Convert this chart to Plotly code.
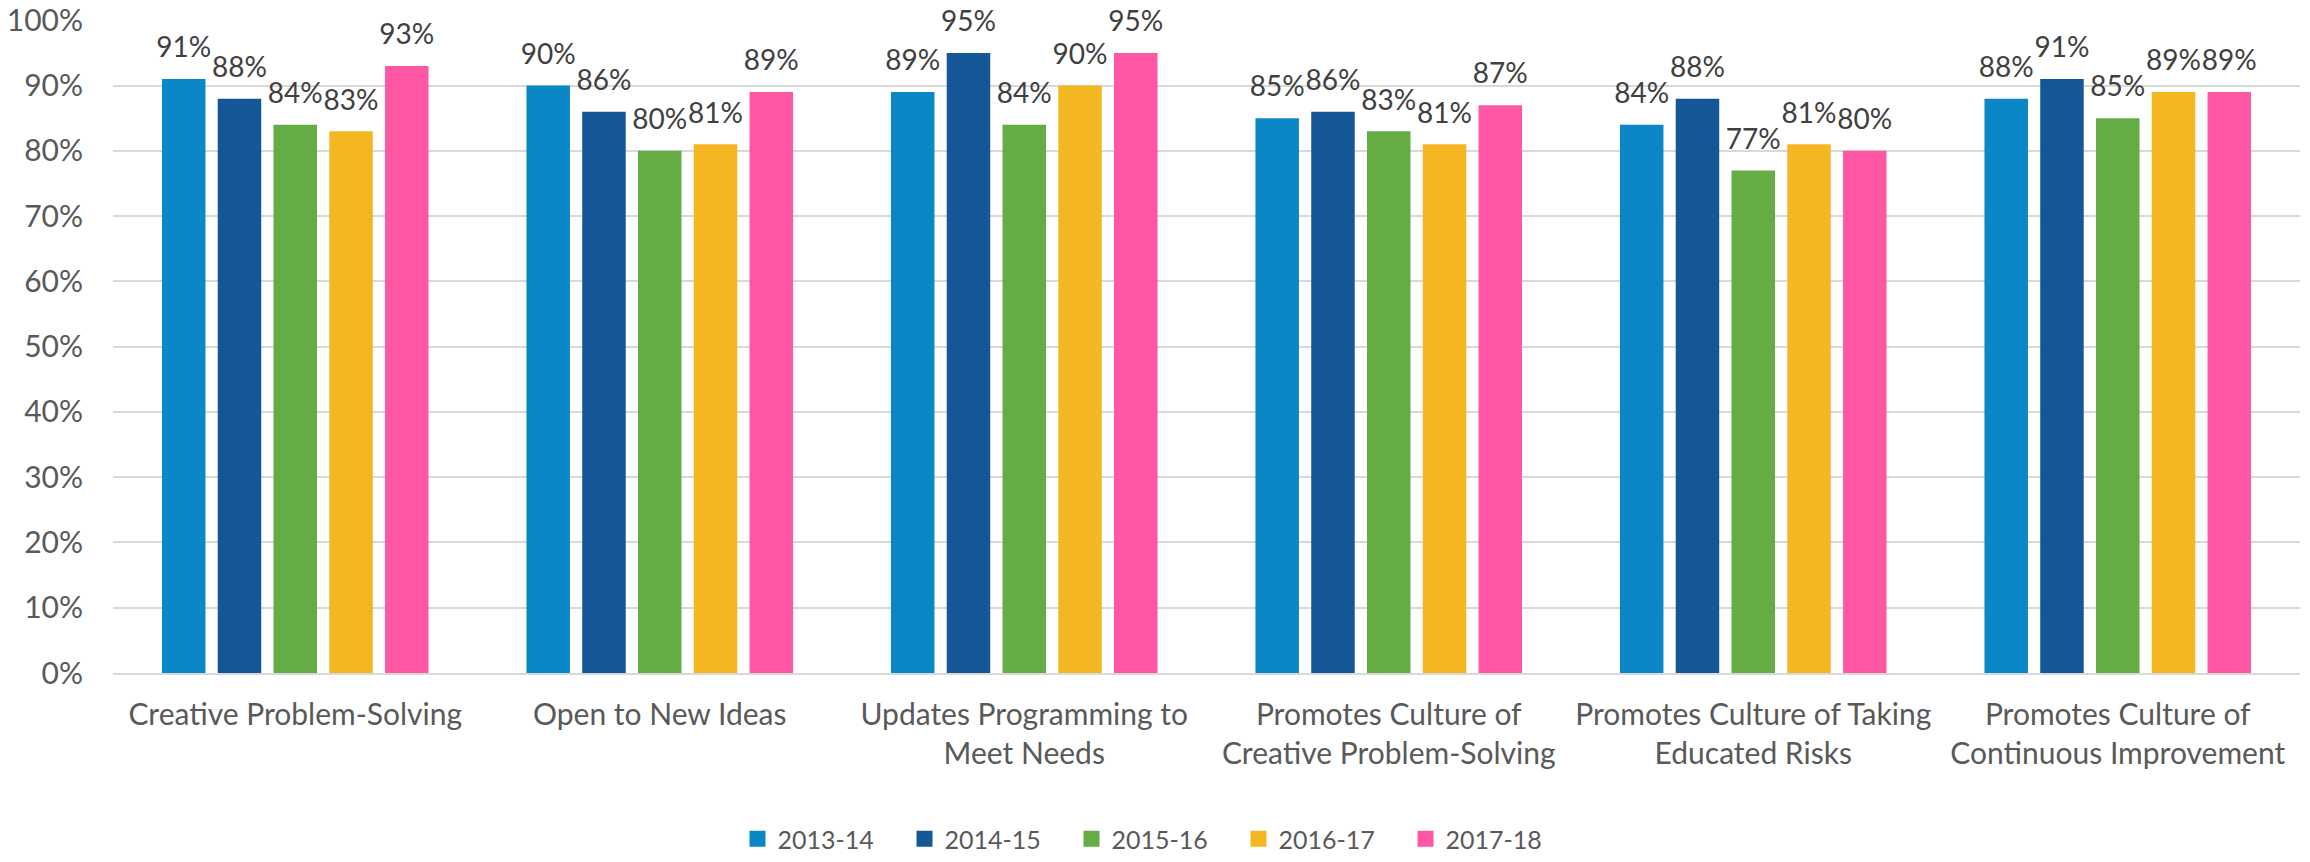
import plotly.graph_objects as go

categories = [
    "Creative Problem-Solving",
    "Open to New Ideas",
    "Updates Programming to<br>Meet Needs",
    "Promotes Culture of<br>Creative Problem-Solving",
    "Promotes Culture of Taking<br>Educated Risks",
    "Promotes Culture of<br>Continuous Improvement",
]
series_names = ["2013-14", "2014-15", "2015-16", "2016-17", "2017-18"]
values_2013_14 = [0.91, 0.90, 0.89, 0.85, 0.84, 0.88]
values_2014_15 = [0.88, 0.86, 0.95, 0.86, 0.88, 0.91]
values_2015_16 = [0.84, 0.80, 0.84, 0.83, 0.77, 0.85]
values_2016_17 = [0.83, 0.81, 0.90, 0.81, 0.81, 0.89]
values_2017_18 = [0.93, 0.89, 0.95, 0.87, 0.80, 0.89]
series_values = [values_2013_14, values_2014_15, values_2015_16, values_2016_17, values_2017_18]
colors = ["#0B87C8", "#135797", "#65AC45", "#F5B721", "#FF57A3"]
y_ticks = [0, 0.1, 0.2, 0.3, 0.4, 0.5, 0.6, 0.7, 0.8, 0.9, 1.0]
y_tick_labels = ["0%", "10%", "20%", "30%", "40%", "50%", "60%", "70%", "80%", "90%", "100%"]

FONT = "Lato"
TEXT = "#595959"
LABEL = "#404040"
BARGAP = 0.235

fig = go.Figure()

# bars
for name, vals, col in zip(series_names, series_values, colors):
    fig.add_trace(go.Bar(
        x=categories, y=vals, name=name, marker_color=col,
        marker_line_width=0, showlegend=False, hoverinfo="skip",
    ))

# data labels (grouped scatter, aligned with bars)
for name, vals in zip(series_names, series_values):
    fig.add_trace(go.Scatter(
        x=categories, y=vals, mode="markers+text",
        text=[f"{round(v*100)}%" for v in vals],
        textposition="top center",
        textfont=dict(family=FONT, size=28, color=LABEL),
        marker=dict(size=22, color="rgba(0,0,0,0)"),
        showlegend=False, hoverinfo="skip", cliponaxis=False,
    ))

# legend entries (separate hidden subplot so grouping is unaffected)
for name, col in zip(series_names, colors):
    fig.add_trace(go.Scatter(
        x=[None], y=[None], mode="markers", name=name,
        marker=dict(symbol="square", size=16, color=col),
        xaxis="x2", yaxis="y2", hoverinfo="skip",
    ))

fig.update_layout(
    width=2310, height=862,
    margin=dict(l=113, r=10, t=20, b=189),
    paper_bgcolor="white", plot_bgcolor="white",
    barmode="group", bargap=BARGAP, bargroupgap=0.22,
    scattermode="group", scattergap=BARGAP,
    font=dict(family=FONT, size=27, color=TEXT),
    hovermode=False,
    xaxis=dict(
        showgrid=False, showline=True, linecolor="#D9D9D9", linewidth=2,
        ticks="", tickfont=dict(family=FONT, size=30, color=TEXT),
        ticklabelstandoff=14, automargin=False,
    ),
    yaxis=dict(
        range=[0, 1.0005], tickmode="array", tickvals=y_ticks, ticktext=y_tick_labels,
        showgrid=True, gridcolor="#D9D9D9", gridwidth=2,
        zeroline=False, showline=False, ticks="",
        tickfont=dict(family=FONT, size=30, color=TEXT),
        ticklabelstandoff=29, automargin=False, ticklabeloverflow="allow",
    ),
    xaxis2=dict(visible=False, domain=[0, 0.01]),
    yaxis2=dict(visible=False, domain=[0, 0.01], anchor="x2"),
    legend=dict(
        orientation="h", xref="container", yref="container",
        x=0.5, xanchor="center", y=0.0, yanchor="bottom",
        font=dict(family=FONT, size=25, color=TEXT),
        itemclick=False, itemdoubleclick=False,
        entrywidth=122, entrywidthmode="pixels",
        bgcolor="rgba(0,0,0,0)",
    ),
)

# remove the browser's default 8px page margin so the figure fills the window
fig.write_html(
    "out.html",
    config={"displayModeBar": False, "staticPlot": False},
    post_script="document.body.style.margin='0';document.body.style.overflow='hidden';",
)
